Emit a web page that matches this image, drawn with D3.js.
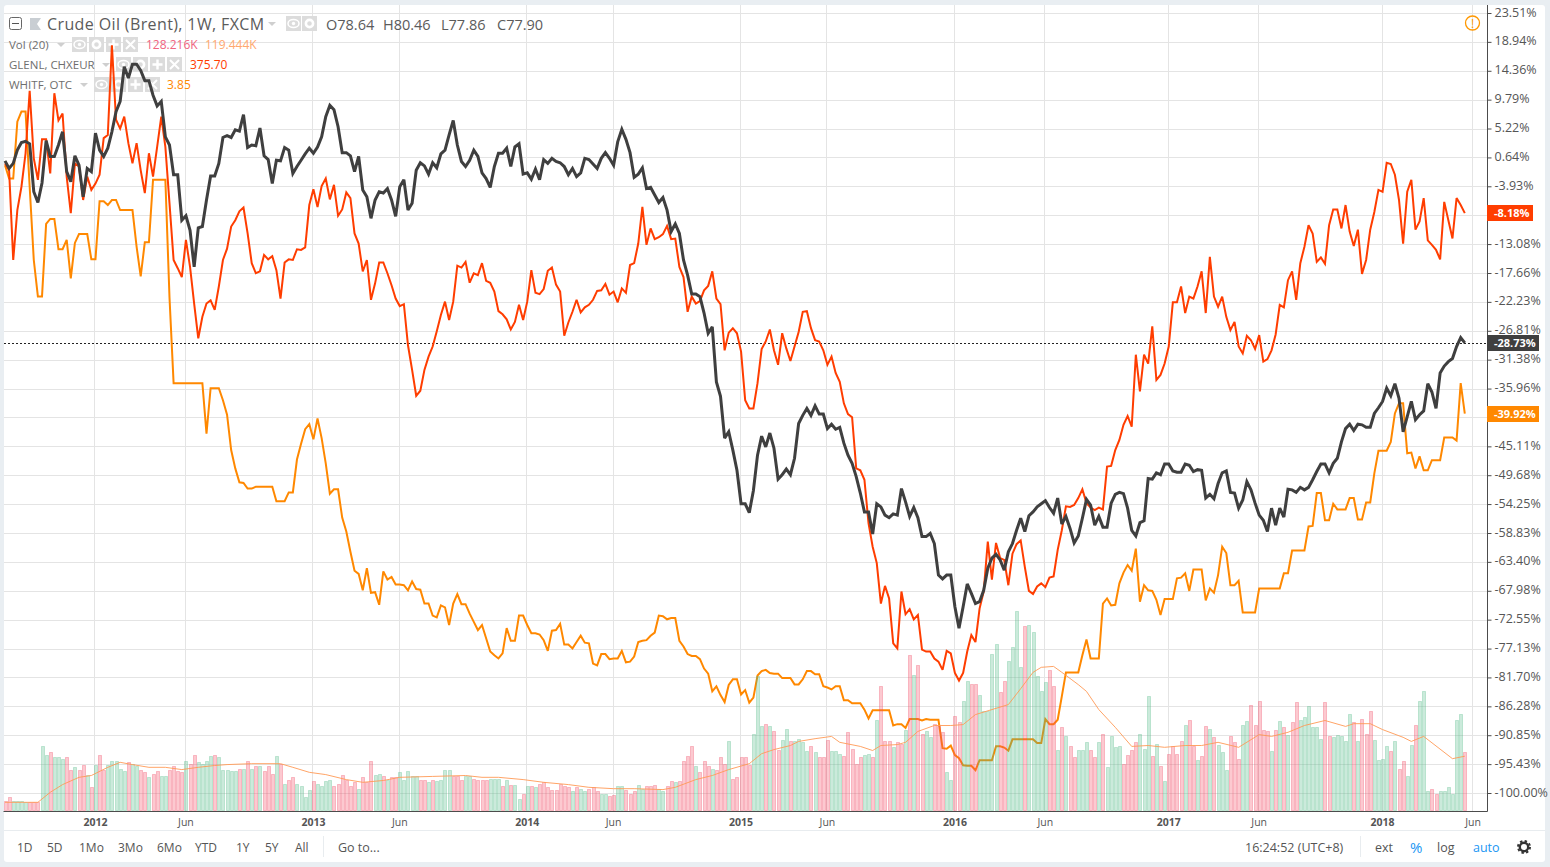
<!DOCTYPE html>
<html><head><meta charset="utf-8">
<script src="https://cdnjs.cloudflare.com/ajax/libs/d3/7.8.5/d3.min.js"></script>
<style>
html,body{margin:0;padding:0;background:#e9eef2;overflow:hidden}
svg{display:block}
text{font-family:"Open Sans",sans-serif}
</style></head><body>
<svg id="c" width="1550" height="867"></svg>
<script>
const startWeek = "2011-08-01";
const brent = [
0.1,-1.1,-0.3,1.8,3.0,3.2,2.8,-4.8,-6.5,-3.4,
3.3,0.8,0.8,2.6,4.7,-1.6,-3.2,0.9,-0.6,-5.6,
-1.1,-1.6,4.5,1.8,0.8,2.1,4.7,7.9,9.5,15.0,
13.2,15.4,15.4,14.4,12.8,12.8,10.5,8.8,9.5,3.9,
2.6,-2.1,-2.1,-9.3,-8.6,-10.9,-16.7,-10.5,-10.3,-6.1,
-2.3,-2.3,-0.3,3.8,4.1,3.8,5.0,4.8,7.4,2.2,
2.6,2.5,5.3,0.9,0.3,-3.5,0.2,0.1,2.2,1.8,
-1.9,-0.8,0.2,1.2,2.1,1.3,2.3,3.9,7.1,8.9,
8.2,5.5,1.4,1.4,0.9,-1.6,0.8,-4.5,-5.6,-9.0,
-6.1,-4.8,-5.0,-4.3,-6.1,-8.7,-4.0,-2.9,-7.7,-6.6,
-1.4,-0.2,-0.7,-2.0,-0.2,-1.0,1.2,1.8,4.2,6.5,
2.6,0.0,-0.8,0.2,1.8,0.8,-1.8,-2.7,-4.1,-0.8,
1.3,1.3,2.1,-0.8,2.3,2.8,-2.0,-1.8,-2.8,-1.2,
-2.9,0.3,-0.3,0.5,0.0,-0.2,-0.8,-2.1,-1.1,-2.4,
-1.8,0.5,0.3,-0.4,-1.1,0.5,1.4,0.5,-0.6,3.1,
5.1,3.5,1.4,-2.5,-2.0,-1.0,-4.3,-4.1,-5.3,-6.5,
-5.7,-7.7,-11.1,-9.9,-11.4,-15.6,-18.0,-21.0,-21.0,-21.4,
-24.0,-27.2,-26.2,-34.9,-37.2,-43.8,-42.8,-45.7,-48.9,-54.2,
-54.2,-55.6,-52.1,-46.5,-43.5,-45.2,-43.0,-45.4,-50.3,-49.6,
-48.7,-49.6,-47.0,-41.5,-40.2,-39.1,-40.2,-38.7,-40.0,-40.0,
-42.3,-41.6,-42.4,-42.1,-44.6,-46.5,-47.8,-49.9,-52.5,-55.5,
-55.5,-59.0,-54.2,-54.7,-56.0,-56.4,-55.8,-56.0,-51.8,-53.9,
-56.2,-54.8,-56.4,-59.4,-59.4,-58.9,-60.5,-65.5,-66.1,-65.5,
-65.5,-70.5,-73.9,-70.5,-66.9,-68.4,-70.0,-69.7,-67.9,-64.4,
-62.8,-62.2,-63.1,-64.7,-61.8,-60.5,-58.4,-56.5,-58.6,-56.1,
-55.5,-54.7,-54.2,-53.7,-54.8,-55.7,-53.3,-57.4,-56.2,-58.1,
-60.4,-59.3,-56.5,-53.5,-54.4,-57.6,-56.2,-57.9,-57.9,-54.1,
-52.7,-52.4,-52.6,-54.9,-58.4,-59.3,-57.2,-56.9,-50.2,-50.3,
-49.3,-49.6,-47.9,-47.9,-49.0,-49.2,-49.2,-47.9,-48.1,-49.1,
-48.8,-48.9,-53.3,-52.7,-53.4,-51.0,-49.3,-49.0,-52.4,-52.5,
-54.9,-53.6,-50.7,-52.0,-54.1,-56.0,-56.8,-58.6,-54.9,-57.6,
-54.9,-56.3,-51.9,-52.0,-52.4,-51.6,-52.0,-51.6,-50.4,-49.1,
-47.9,-47.9,-49.3,-47.8,-47.0,-44.4,-42.3,-41.6,-42.6,-41.6,
-41.7,-42.1,-42.1,-39.9,-39.0,-38.0,-35.9,-37.1,-35.2,-37.5,
-42.8,-40.4,-38.0,-40.9,-40.1,-39.5,-35.2,-36.5,-39.1,-33.5,
-32.4,-31.7,-31.2,-29.3,-27.9,-28.73];
const glencore = [
-0.3,-1.4,-15.6,-7.7,-4.0,1.3,11.2,0.5,-2.9,3.5,
3.5,-1.9,10.8,6.5,7.6,-2.4,-8.2,-0.3,-0.8,-6.1,
-2.4,-4.5,-3.5,-2.1,3.7,4.2,18.4,6.6,5.2,7.1,
2.9,-0.3,2.9,-1.4,-5.0,1.3,-2.4,2.3,7.1,2.3,
-6.6,-15.6,-16.9,-18.3,-12.4,-16.7,-22.5,-28.0,-24.6,-22.5,
-22.0,-23.5,-19.8,-15.6,-13.8,-10.3,-9.3,-7.9,-7.3,-11.4,
-16.1,-17.7,-17.4,-14.8,-15.5,-15.0,-17.2,-21.7,-16.0,-15.5,
-15.6,-13.9,-14.0,-13.6,-6.9,-4.4,-7.2,-3.9,-2.7,-6.0,
-3.7,-8.6,-7.6,-4.9,-5.8,-11.4,-13.0,-17.4,-15.6,-21.9,
-19.3,-16.0,-16.0,-17.7,-19.6,-21.7,-22.9,-22.6,-29.1,-33.0,
-37.1,-36.3,-33.0,-30.9,-29.3,-26.9,-24.3,-22.2,-25.1,-22.2,
-16.5,-16.8,-15.9,-19.2,-17.7,-18.0,-16.1,-18.9,-19.2,-20.6,
-23.7,-24.2,-25.0,-26.6,-25.4,-22.7,-25.1,-22.2,-17.2,-20.8,
-21.0,-20.2,-17.3,-16.8,-19.5,-20.6,-27.6,-25.5,-23.8,-21.9,
-23.9,-23.1,-22.7,-21.9,-20.5,-20.4,-19.4,-21.1,-20.6,-22.3,
-20.1,-20.8,-16.4,-16.1,-13.0,-7.2,-13.2,-10.6,-12.3,-12.0,
-11.5,-10.2,-12.3,-12.2,-16.7,-18.3,-23.8,-21.4,-22.5,-22.1,
-20.4,-19.7,-17.4,-21.7,-22.6,-29.9,-27.1,-26.4,-27.2,-30.1,
-37.8,-39.1,-39.1,-35.1,-29.7,-28.5,-26.6,-29.9,-32.2,-27.2,
-29.6,-31.6,-29.3,-27.0,-23.8,-23.7,-26.4,-28.3,-28.5,-29.9,
-32.2,-30.9,-33.5,-34.9,-38.3,-40.0,-40.5,-48.6,-48.9,-50.4,
-57.3,-61.0,-63.6,-70.0,-67.2,-69.2,-76.3,-77.1,-68.1,-71.7,
-70.9,-72.5,-71.8,-77.3,-77.6,-77.6,-78.7,-79.2,-80.5,-77.5,
-77.9,-81.0,-82.2,-81.0,-77.6,-75.0,-76.1,-70.8,-68.1,-60.2,
-66.2,-60.4,-62.8,-63.1,-67.1,-62.1,-60.6,-60.0,-64.2,-68.0,
-68.5,-67.3,-66.8,-67.4,-65.9,-65.7,-61.5,-58.4,-54.6,-54.7,
-54.4,-53.3,-51.9,-54.1,-54.8,-55.2,-54.8,-55.1,-48.3,-48.2,
-45.7,-44.1,-41.7,-40.3,-42.0,-30.6,-36.4,-30.6,-32.0,-26.1,
-34.6,-33.8,-32.0,-29.3,-22.3,-22.3,-19.8,-24.0,-21.4,-21.7,
-19.8,-17.4,-24.0,-15.1,-21.4,-23.0,-21.4,-24.6,-26.7,-25.4,
-29.3,-30.4,-27.6,-28.3,-29.7,-27.5,-31.7,-31.3,-29.9,-27.4,
-22.7,-23.1,-18.8,-17.4,-21.9,-16.1,-13.5,-10.1,-11.4,-15.9,
-15.2,-16.2,-10.1,-7.6,-7.6,-10.6,-6.9,-11.1,-13.4,-10.8,
-17.8,-15.6,-10.8,-8.0,-4.5,-4.8,-0.2,-0.4,-2.1,-6.1,
-13.0,-4.8,-2.9,-10.8,-9.5,-5.8,-12.5,-13.2,-14.0,-15.5,
-6.4,-9.3,-12.2,-5.8,-6.9,-8.18];
const whitehaven = [
-0.6,-2.7,-2.7,6.3,7.9,7.9,-4.0,-15.6,-21.4,-21.4,
-9.9,-9.1,-9.1,-13.9,-13.9,-12.4,-18.5,-12.9,-11.5,-11.5,
-11.5,-15.5,-15.5,-6.3,-6.3,-6.9,-6.1,-6.1,-7.7,-7.7,
-7.7,-7.7,-13.5,-18.2,-12.8,-12.8,-2.9,-2.9,-2.9,-2.9,
-21.5,-35.1,-35.1,-35.1,-35.1,-35.1,-35.1,-35.1,-35.1,-43.1,
-35.9,-35.9,-35.9,-37.8,-40.1,-45.7,-48.6,-50.8,-50.9,-51.8,
-51.8,-51.5,-51.5,-51.5,-51.5,-51.5,-53.8,-53.8,-53.8,-52.4,
-52.4,-47.2,-44.7,-42.4,-41.6,-44.0,-40.7,-43.8,-47.8,-52.6,
-51.9,-51.9,-56.4,-58.6,-61.8,-64.8,-65.3,-67.9,-64.4,-68.3,
-68.2,-70.2,-64.9,-66.2,-65.8,-67.0,-67.0,-67.1,-67.9,-66.5,
-67.7,-67.8,-70.0,-70.0,-71.9,-72.2,-70.3,-70.6,-73.4,-70.0,
-68.5,-70.1,-70.1,-71.6,-72.9,-74.2,-73.4,-75.5,-77.6,-78.2,
-78.7,-77.9,-73.9,-75.9,-75.9,-71.9,-71.9,-73.4,-74.7,-74.7,
-74.9,-75.8,-77.5,-74.3,-74.2,-73.2,-76.5,-76.5,-77.1,-76.1,
-75.1,-76.2,-76.3,-79.5,-79.8,-78.0,-78.0,-78.8,-78.7,-78.7,
-77.5,-79.3,-79.2,-78.4,-76.1,-75.9,-75.8,-75.1,-74.6,-71.9,
-72.0,-72.5,-72.3,-72.3,-75.9,-76.8,-78.0,-78.3,-78.3,-78.8,
-80.3,-81.1,-83.9,-83.1,-84.5,-85.6,-82.9,-82.0,-82.0,-84.4,
-83.7,-85.7,-84.9,-81.4,-80.7,-80.5,-81.0,-81.1,-81.1,-81.8,
-81.8,-81.8,-82.8,-82.8,-82.0,-80.7,-80.7,-81.2,-81.2,-83.1,
-83.3,-83.6,-83.1,-83.1,-85.3,-85.3,-85.8,-85.8,-85.8,-86.8,
-88.2,-86.9,-86.9,-86.9,-86.9,-86.9,-89.3,-89.1,-89.1,-89.7,
-88.3,-88.3,-88.3,-88.5,-88.3,-88.4,-88.4,-88.4,-92.9,-93.0,
-92.5,-94.0,-94.5,-95.6,-95.7,-95.7,-96.4,-94.8,-94.8,-94.8,
-94.8,-92.6,-92.6,-92.8,-93.3,-91.5,-91.5,-91.5,-91.5,-91.5,
-91.5,-92.1,-92.1,-88.3,-89.1,-89.1,-88.4,-84.7,-80.9,-80.9,
-80.9,-80.9,-78.2,-75.7,-78.7,-78.7,-78.7,-70.0,-69.2,-70.3,
-70.2,-66.8,-65.1,-63.9,-64.8,-61.3,-69.7,-67.1,-67.9,-68.0,
-69.4,-71.8,-69.3,-69.3,-69.3,-66.0,-65.9,-65.2,-68.0,-64.6,
-64.6,-64.6,-69.5,-67.6,-68.3,-65.5,-61.0,-62.0,-67.1,-67.1,
-66.4,-71.4,-71.4,-71.4,-71.4,-67.6,-67.6,-67.6,-67.6,-67.6,
-67.6,-65.2,-65.2,-61.6,-61.6,-61.6,-61.6,-57.8,-57.7,-52.5,
-52.5,-56.8,-56.8,-54.2,-55.1,-55.1,-55.1,-53.3,-53.3,-56.7,
-56.7,-54.0,-54.0,-49.4,-45.8,-45.8,-45.8,-44.4,-39.9,-38.3,
-38.3,-46.2,-46.1,-48.6,-46.7,-48.9,-48.9,-47.3,-47.3,-47.3,
-43.7,-43.7,-43.7,-44.2,-35.1,-39.92];
const volumeK = [
22,29,20,22,20,18,18,18,18,141,
123,128,117,117,114,117,90,95,90,101,
79,51,101,123,90,101,108,110,92,88,
106,103,99,90,84,73,81,88,77,77,
90,97,86,84,110,103,123,106,103,108,
121,123,117,90,90,88,88,92,92,108,
92,99,99,86,97,81,121,103,59,66,
73,59,53,29,46,64,59,55,64,66,
55,59,79,66,55,62,48,73,62,108,
79,81,77,68,73,73,84,68,88,77,
75,68,68,62,68,64,66,90,90,77,
77,66,77,77,70,68,66,66,70,70,
70,53,68,57,57,26,37,55,53,51,
59,62,51,46,46,59,53,51,44,51,
48,44,48,51,44,37,37,33,35,53,
53,46,37,42,57,48,53,53,57,48,
44,55,64,62,64,110,119,141,97,84,
108,99,92,90,117,103,154,70,73,117,
117,101,169,297,185,191,187,176,134,156,
180,154,152,158,150,132,143,128,117,117,
156,132,132,125,119,172,136,103,117,123,
125,117,200,273,154,152,139,150,147,178,
343,299,321,169,174,161,191,187,172,84,
68,207,194,242,286,279,279,255,220,220,
345,367,260,284,328,359,440,315,405,407,
392,295,264,282,310,275,134,183,163,143,
117,134,134,150,134,117,150,169,95,165,
139,143,103,123,134,150,169,136,253,121,
147,99,64,125,143,125,152,189,200,143,
112,119,185,180,161,145,128,90,165,150,
114,189,196,233,189,242,178,176,132,178,
198,183,167,194,238,200,205,229,183,183,
158,238,163,161,167,163,154,213,194,154,
202,169,218,156,112,114,143,132,154,92,
108,77,145,189,242,262,42,48,37,44,
42,51,37,200,213,128.216];
const volumeUp = ("0011110001"+"1011100100"+"1010011111"+"0110010011"+"0000100111"+"1011111010"+"1010001010"+"0111101111"+"0000001000"+"1101001111"+
"1001011110"+"0011000011"+"1010110101"+"0000000010"+"1100011001"+"1000110001"+"1001000010"+"0010001000"+"0011101001"+"1011110100"+
"0111000001"+"1010001001"+"0100110001"+"1001100111"+"1100111101"+"1111001010"+"0111001011"+"1100001110"+"1010000100"+"1001011100"+
"0110000010"+"1010011111"+"1001111101"+"0001111010"+"0110111001"+"111110").split("").map(Number);
const maWeek = [0,8,11,14,18,21,25,28,31,35,39,43,47,51,54,60,67,70,74,78,83,87,92,96,104,112,116,120,126,131,137,142,148,153,160,163,168,172,176,181,184,187,191,193,197,201,203,208,211,213,217,219,222,226,230,233,236,240,244,247,250,252,255,257,261,263,266,270,274,278,282,287,291,295,300,305,308,312,316,321,326,328,332,335,340,342,345,352,355];
const maK = [18,18,40,57,73,77,95,106,101,95,95,90,95,99,101,103,103,95,84,79,68,62,66,73,75,77,73,73,68,62,57,51,48,48,46,51,68,77,90,103,125,134,143,152,158,163,150,141,132,143,145,150,174,187,187,189,211,222,233,268,304,315,317,304,277,262,222,183,141,143,139,143,143,150,139,167,163,172,187,198,185,191,191,178,161,152,163,114,119.444];
const priceTicks = [23.51,18.94,14.36,9.79,5.22,0.64,-3.93,-8.51,-13.08,-17.66,-22.23,-26.81,-31.38,-35.96,-40.53,-45.11,-49.68,-54.25,-58.83,-63.40,-67.98,-72.55,-77.13,-81.70,-86.28,-90.85,-95.43,-100.00];
const hiddenTicks = [-8.51,-40.53];
const dateTicks = ["2012-01-02","2012-06-04","2013-01-07","2013-06-03","2014-01-06","2014-06-02","2015-01-05","2015-06-01","2016-01-04","2016-06-06","2017-01-02","2017-06-05","2018-01-01","2018-06-04"];
const dateLabels = ["2012","Jun","2013","Jun","2014","Jun","2015","Jun","2016","Jun","2017","Jun","2018","Jun"];
const lastTags = [["-8.18%",-8.18,"#ff3d00"],["-39.92%",-39.92,"#ff8800"],["-28.73%",-28.73,"#3f3f3f"]];
const rangeBtns = [["1D",17],["5D",47],["1Mo",79],["3Mo",118],["6Mo",157],["YTD",195],["1Y",236],["5Y",265],["All",295]];

const svg = d3.select("#c");
const W0=4,H0=5,PR=1487,PB=811;
const wk = i => new Date(Date.UTC(2011,7,1+7*i));
const x = d3.scaleUtc().domain([wk(0),wk(355)]).range([5,1464.8]);
const y = d3.scaleLinear().domain([23.51,-100]).range([13,793]);
const yVol = d3.scaleLinear().domain([0,220]).range([810.5,710.5]);

// panel
svg.append("rect").attr("x",W0).attr("y",H0).attr("width",1541).attr("height",857).attr("rx",3).attr("fill","#fff");

// grid
const grid = svg.append("g").attr("stroke","#e4e4e4").attr("stroke-width",1);
priceTicks.forEach(v=>{const yy=Math.round(y(v))+.5;grid.append("line").attr("x1",W0).attr("x2",PR).attr("y1",yy).attr("y2",yy)});
dateTicks.forEach(d=>{const xx=Math.round(x(new Date(d+"T00:00:00Z")))-.5;grid.append("line").attr("x1",xx).attr("x2",xx).attr("y1",H0).attr("y2",PB)});

// legend (sits under the series)
function box(gx,gy,w,kind){
  const g=svg.append("g").attr("transform",`translate(${gx},${gy})`);
  g.append("rect").attr("width",w).attr("height",w).attr("fill","#dcdcdc");
  const c=w/2;
  if(kind==="eye"){g.append("ellipse").attr("cx",c).attr("cy",c).attr("rx",5.5).attr("ry",4).attr("fill","none").attr("stroke","#fff").attr("stroke-width",1.5);g.append("circle").attr("cx",c).attr("cy",c).attr("r",1.7).attr("fill","#fff");}
  if(kind==="gear"){g.append("circle").attr("cx",c).attr("cy",c).attr("r",3.6).attr("fill","none").attr("stroke","#fff").attr("stroke-width",2.6);}
  if(kind==="plus"){g.append("path").attr("d",`M${c-5},${c}H${c+5}M${c},${c-5}V${c+5}`).attr("stroke","#fff").attr("stroke-width",2.4);}
  if(kind==="x"){g.append("path").attr("d",`M${c-4.5},${c-4.5}L${c+4.5},${c+4.5}M${c+4.5},${c-4.5}L${c-4.5},${c+4.5}`).attr("stroke","#fff").attr("stroke-width",2);}
}
function arrow(ax0,ay,c){svg.append("path").attr("d",`M${ax0},${ay}h8l-4,4z`).attr("fill",c||"#cfcfcf");}
function label(t,lx,ly,size,fill,anchor){return svg.append("text").attr("x",lx).attr("y",ly).attr("font-size",size).attr("fill",fill).attr("text-anchor",anchor||"start").text(t);}

svg.append("rect").attr("x",9.5).attr("y",17.5).attr("width",12).attr("height",12).attr("rx",2).attr("fill","#fff").attr("stroke","#666");
svg.append("line").attr("x1",12).attr("x2",19).attr("y1",23.5).attr("y2",23.5).attr("stroke","#555");
svg.append("path").attr("d","M30,18h11l-4,6l4,6h-11z").attr("fill","#c9ced3");
label("Crude Oil (Brent), 1W, FXCM",47,30,16,"#5b5b5b").attr("letter-spacing",0.38);
arrow(268,22);
box(286,16,15,"eye");box(302,16,15,"gear");
[["O78.64",326],["H80.46",383],["L77.86",441],["C77.90",497]].forEach(([t,lx])=>label(t,lx,30,14.5,"#5b5b5b"));

const subs=[["Vol (20)",9,57,72,[["128.216K",146,"#f0647f"],["119.444K",205,"#ffa86e"]]],
            ["GLENL, CHXEUR",9,102,116,[["375.70",190,"#ff3d00"]]],
            ["WHITF, OTC",9,80,94,[["3.85",167,"#ff8800"]]]];
subs.forEach(([t,lx,ar,bxx,vals],k)=>{
  const base=[49,69,89][k];
  label(t,lx,base,11.5,"#6e6e6e");
  arrow(ar,base-6);
  ["eye","gear","plus","x"].forEach((kd,j)=>box(bxx+j*17,base-12,15,kd));
  vals.forEach(([v,vx,c])=>label(v,vx,base,12,c));
});

// price line
svg.append("line").attr("x1",W0).attr("x2",PR).attr("y1",Math.round(y(-28.73))+.5).attr("y2",Math.round(y(-28.73))+.5)
  .attr("stroke","#222").attr("stroke-width",1).attr("stroke-dasharray","2 2");

// series
const line = d3.line().x((d,i)=>x(wk(i))).y(d=>y(d)).curve(d3.curveLinear);
[[whitehaven,"#ff8800",2],[glencore,"#ff3d00",2],[brent,"#3f3f3f",3]].forEach(([s,c,w])=>{
  svg.append("path").datum(s).attr("d",line).attr("fill","none").attr("stroke",c).attr("stroke-width",w).attr("stroke-linejoin","miter").attr("stroke-miterlimit",3);
});

// volume
svg.append("g").selectAll("rect").data(volumeK).join("rect")
  .attr("x",(d,i)=>Math.round(x(wk(i))-1.5)+.5)
  .attr("y",d=>Math.round(yVol(d))+.5)
  .attr("width",3)
  .attr("height",d=>Math.max(0,810-Math.round(yVol(d))))
  .attr("fill",(d,i)=>volumeUp[i]?"rgba(83,185,135,0.3)":"rgba(245,75,100,0.3)")
  .attr("stroke",(d,i)=>volumeUp[i]?"rgba(83,185,135,0.3)":"rgba(240,70,95,0.3)");
const maLine = d3.line().x((d,i)=>x(wk(maWeek[i]))).y(d=>yVol(d));
svg.append("path").datum(maK).attr("d",maLine).attr("fill","none").attr("stroke","#ff9a56").attr("stroke-width",1).attr("opacity",.9);

// axes
const ax = d3.axisRight(y).tickValues(priceTicks).tickFormat(d=>hiddenTicks.includes(d)?"":d.toFixed(2)+"%").tickSize(4).tickPadding(3);
const ga = svg.append("g").attr("transform",`translate(${PR+.5},0)`).call(ax);
ga.select(".domain").attr("d",`M0,${H0}V${PB+.5}`).attr("stroke","#4c4c4c");
ga.selectAll(".tick line").attr("stroke","#4c4c4c");
ga.selectAll("text").attr("font-size",12.5).attr("fill","#555").attr("font-family","'Open Sans',sans-serif").attr("dy","0.24em");
const bx = d3.axisBottom(x).tickValues(dateTicks.map(d=>new Date(d+"T00:00:00Z"))).tickFormat((d,i)=>dateLabels[i]).tickSize(0).tickPadding(7);
const gb = svg.append("g").attr("transform",`translate(-0.5,${PB+.5})`).call(bx);
gb.select(".domain").attr("d",`M${W0},0H${PR+1}`).attr("stroke","#4c4c4c");
gb.selectAll("text").attr("font-size",10.5).attr("fill","#555").attr("font-family","'Open Sans',sans-serif")
  .attr("font-weight",(d,i)=>dateLabels[i]==="Jun"?400:700).attr("dy","0.75em");

// last value tags
lastTags.forEach(([t,v,c])=>{
  const yy=Math.round(y(v));
  svg.append("rect").attr("x",PR).attr("y",yy-8).attr("width",t.length>6?52:46).attr("height",16).attr("fill",c);
  svg.append("text").attr("x",PR+7).attr("y",yy+4).attr("font-size",11).attr("font-weight",700).attr("fill","#fff").text(t);
});

// alert
svg.append("circle").attr("cx",1472.5).attr("cy",23).attr("r",7).attr("fill","none").attr("stroke","#ff9800").attr("stroke-width",1.3);
label("!",1472.5,27.5,12,"#ff9800","middle");

// bottom toolbar
svg.append("line").attr("x1",W0).attr("x2",1545).attr("y1",830.5).attr("y2",830.5).attr("stroke","#e8ecef");
rangeBtns.forEach(([t,bxx])=>label(t,bxx,852,12,"#555"));
svg.append("line").attr("x1",323.5).attr("x2",323.5).attr("y1",836).attr("y2",857).attr("stroke","#e8ecef");
label("Go to...",338,852,12.5,"#555");
label("16:24:52 (UTC+8)",1245,852,12.5,"#555");
svg.append("line").attr("x1",1360.5).attr("x2",1360.5).attr("y1",836).attr("y2",857).attr("stroke","#e8ecef");
label("ext",1375,852,12.5,"#555");
label("%",1410,853,15,"#2196f3");
label("log",1437,852,12.5,"#555");
label("auto",1473,852,12.5,"#2196f3");
svg.append("circle").attr("cx",1524).attr("cy",847).attr("r",4.2).attr("fill","none").attr("stroke","#333").attr("stroke-width",2.4);
svg.append("circle").attr("cx",1524).attr("cy",847).attr("r",6).attr("fill","none").attr("stroke","#333").attr("stroke-width",2).attr("stroke-dasharray","2.4 2.3");
</script>
</body></html>
